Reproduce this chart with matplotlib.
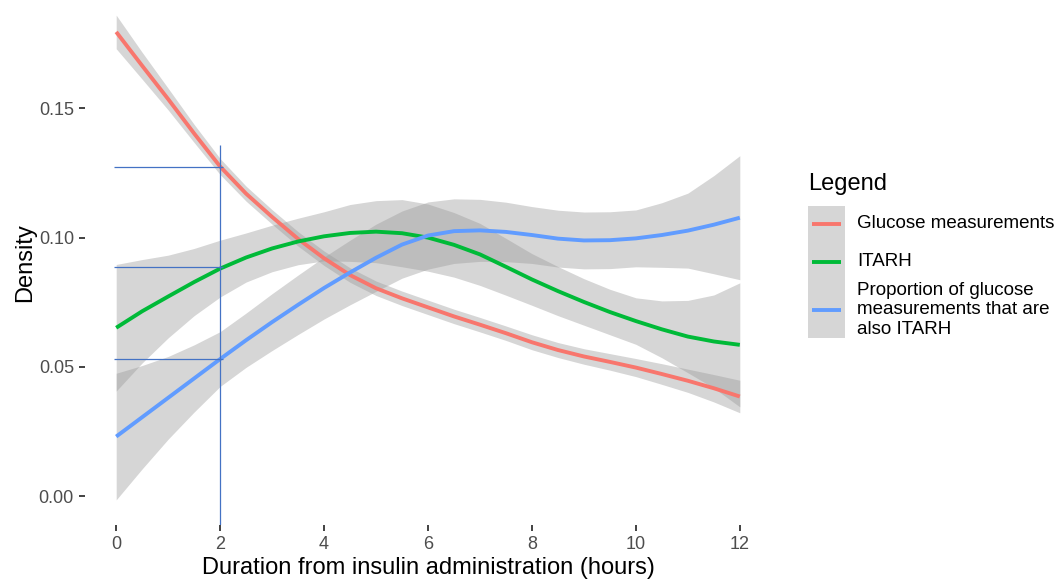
import numpy as np
import matplotlib
matplotlib.use("Agg")
import matplotlib.pyplot as plt
from matplotlib.patches import Rectangle

plt.rcParams['font.family'] = ['Liberation Sans', 'DejaVu Sans']

# hours since insulin administration
hours = np.arange(0, 12.01, 0.5)

glucose = [0.1796, 0.1665, 0.1536, 0.1403, 0.1275, 0.1170, 0.1080, 0.0995, 0.0920,
           0.0855, 0.0804, 0.0765, 0.0730, 0.0695, 0.0663, 0.0630, 0.0595, 0.0565,
           0.0540, 0.0519, 0.0497, 0.0472, 0.0446, 0.0417, 0.0385]
glucose_se = [0.0065, 0.0052, 0.0042, 0.0035, 0.0031, 0.0029, 0.0028, 0.0028, 0.0028,
              0.0028, 0.0028, 0.0028, 0.0028, 0.0028, 0.0028, 0.0028, 0.0029, 0.0029,
              0.0030, 0.0032, 0.0035, 0.0040, 0.0045, 0.0053, 0.0063]

itarh = [0.0651, 0.0715, 0.0772, 0.0828, 0.0880, 0.0923, 0.0958, 0.0985, 0.1005,
         0.1018, 0.1023, 0.1017, 0.1000, 0.0972, 0.0935, 0.0887, 0.0838, 0.0793,
         0.0751, 0.0712, 0.0677, 0.0645, 0.0617, 0.0598, 0.0585]
itarh_se = [0.0245, 0.0200, 0.0160, 0.0130, 0.0110, 0.0095, 0.0090, 0.0090, 0.0095,
            0.0110, 0.0120, 0.0130, 0.0130, 0.0125, 0.0120, 0.0110, 0.0100, 0.0095,
            0.0090, 0.0088, 0.0090, 0.0110, 0.0140, 0.0180, 0.0240]

proportion = [0.0230, 0.0305, 0.0380, 0.0455, 0.0530, 0.0603, 0.0673, 0.0740, 0.0805,
              0.0865, 0.0922, 0.0973, 0.1008, 0.1025, 0.1028, 0.1022, 0.1010, 0.0996,
              0.0989, 0.0990, 0.0997, 0.1010, 0.1027, 0.1050, 0.1077]
proportion_se = [0.0245, 0.0200, 0.0160, 0.0130, 0.0106, 0.0105, 0.0110, 0.0115, 0.0120,
                 0.0125, 0.0130, 0.0130, 0.0130, 0.0125, 0.0120, 0.0115, 0.0110, 0.0110,
                 0.0110, 0.0110, 0.0110, 0.0125, 0.0145, 0.0190, 0.0240]

# reference lines drawn at 2 hours
mark_hour = 2
mark_top = 0.1358
mark_levels = [0.1273, 0.0886, 0.0532]

labels = ["Glucose measurements", "ITARH",
          "Proportion of glucose\nmeasurements that are\nalso ITARH"]
colors = ['#F8766D', '#00BA38', '#619CFF']

W, H = 1061, 583
fig = plt.figure(figsize=(W / 100, H / 100), dpi=100)
ax = fig.add_axes([85 / W, (H - 525) / H, (771 - 85) / W, 525 / H])

series = [(glucose, glucose_se), (itarh, itarh_se), (proportion, proportion_se)]
for vals, se in series:
    v = np.array(vals)
    s = np.array(se)
    ax.fill_between(hours, v - s, v + s, color='#999999', alpha=0.4, linewidth=0, zorder=1)
for (vals, se), c in zip(series, colors):
    ax.plot(hours, vals, color=c, lw=2.8, zorder=3, solid_capstyle='butt', solid_joinstyle='round')

ylo, yhi = -0.01122, 0.19195
ax.vlines(mark_hour, ylo, mark_top, color='#4472C4', lw=0.9, zorder=4)
ax.hlines(mark_levels, -0.05, mark_hour + 0.05, color='#4472C4', lw=0.9, zorder=4)

ax.set_xlim(-0.6, 12.6)
ax.set_ylim(ylo, yhi)
ax.set_xticks([0, 2, 4, 6, 8, 10, 12])
ax.set_yticks([0.00, 0.05, 0.10, 0.15])
ax.set_yticklabels(["0.00", "0.05", "0.10", "0.15"])
for sp in ax.spines.values():
    sp.set_visible(False)
ax.tick_params(axis='both', length=4, width=1.3, color='#333333',
               labelcolor='#4D4D4D', labelsize=13, pad=4)
ax.set_xlabel("Duration from insulin administration (hours)", fontsize=17, labelpad=3)
ax.set_ylabel("Density", fontsize=17, labelpad=2)

# legend drawn by hand in pixel space
lg = fig.add_axes([0, 0, 1, 1], zorder=5)
lg.set_xlim(0, W)
lg.set_ylim(H, 0)
lg.axis('off')
lg.patch.set_alpha(0)
lg.text(808, 184, "Legend", fontsize=17, va='center', ha='left')
lg.add_patch(Rectangle((808, 206), 37, 132, facecolor='#D6D6D6', edgecolor='none'))
for yy, c, lab in zip([224, 262, 310], colors, labels):
    lg.plot([812, 841], [yy, yy], color=c, lw=2.8, solid_capstyle='butt')
    lg.text(857, yy, lab, fontsize=13.5, va='center', ha='left', linespacing=1.2)

fig.savefig("out.png", dpi=100)
